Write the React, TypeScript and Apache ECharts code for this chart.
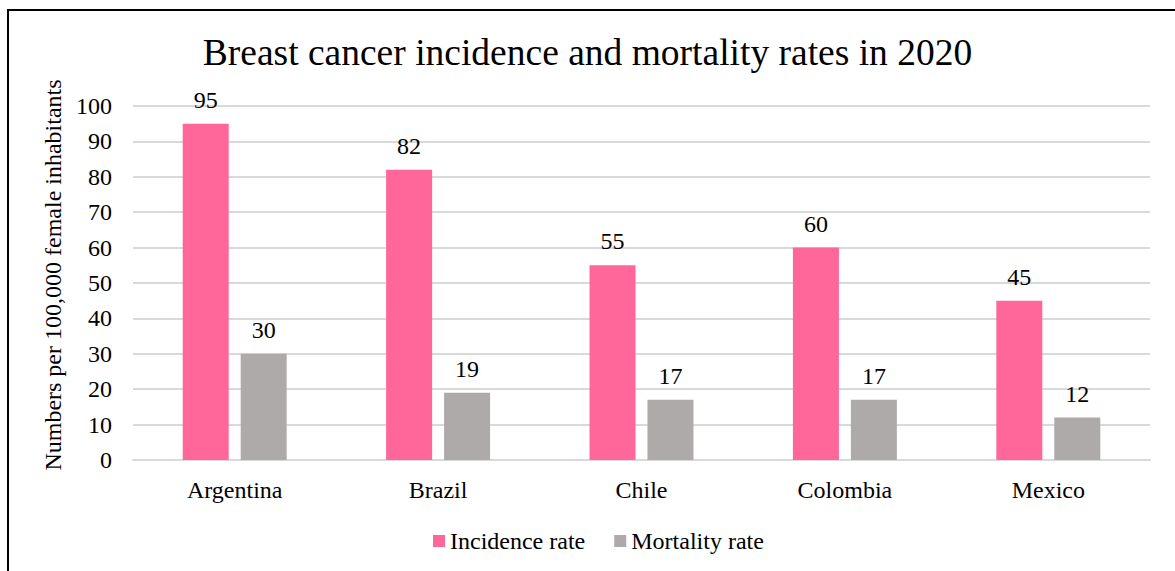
import React, { useEffect, useRef } from "react";
import * as echarts from "echarts";

const categories = ["Argentina", "Brazil", "Chile", "Colombia", "Mexico"];
const incidenceRate = [95, 82, 55, 60, 45];
const mortalityRate = [30, 19, 17, 17, 12];
const seriesNames = ["Incidence rate", "Mortality rate"];
const titleText = "Breast cancer incidence and mortality rates in 2020";
const yAxisName = "Numbers per 100,000 female inhabitants";

const FONT = "'Liberation Serif', 'Times New Roman', serif";

export default function App() {
  const ref = useRef<HTMLDivElement>(null);
  useEffect(() => {
    if (!ref.current) return;
    const chart = echarts.init(ref.current, undefined, { renderer: "svg" });
    const labelStyle = {
      show: true,
      position: "top" as const,
      distance: 12,
      color: "#000",
      fontSize: 24,
      fontFamily: FONT,
    };
    chart.setOption({
      animation: false,
      backgroundColor: "#fff",
      textStyle: { fontFamily: FONT },
      title: {
        text: titleText,
        left: "center",
        top: 28,
        textStyle: { fontFamily: FONT, fontSize: 37.5, fontWeight: "normal", color: "#000" },
      },
      graphic: [
        {
          type: "rect",
          shape: { x: 8, y: 10, width: 1200, height: 620 },
          style: { fill: "none", stroke: "#000", lineWidth: 2 },
          silent: true,
        },
      ],
      legend: {
        data: seriesNames,
        left: 428,
        top: 524,
        itemWidth: 12,
        itemHeight: 12,
        itemGap: 29,
        icon: "rect",
        textStyle: { fontFamily: FONT, fontSize: 24, color: "#000" },
      },
      grid: { left: 133, right: 25, top: 106, bottom: 111, containLabel: false },
      xAxis: {
        type: "category",
        data: categories,
        axisLine: { show: true, lineStyle: { color: "#d9d9d9", width: 2 } },
        axisTick: { show: false },
        axisLabel: { color: "#000", fontSize: 24, fontFamily: FONT, margin: 18 },
      },
      yAxis: {
        type: "value",
        min: 0,
        max: 100,
        interval: 10,
        name: yAxisName,
        nameLocation: "middle",
        nameGap: 66,
        nameRotate: 90,
        nameTextStyle: { color: "#000", fontSize: 24, fontFamily: FONT, padding: [0, 0, 0, 16] },
        axisLine: { show: false },
        axisTick: { show: false },
        axisLabel: { color: "#000", fontSize: 24, fontFamily: FONT, margin: 21 },
        splitLine: { lineStyle: { color: "#d9d9d9", width: 2 } },
      },
      series: [
        {
          name: seriesNames[0],
          type: "bar",
          data: incidenceRate,
          barWidth: 46,
          barGap: "26%",
          itemStyle: { color: "#ff6699" },
          label: labelStyle,
        },
        {
          name: seriesNames[1],
          type: "bar",
          data: mortalityRate,
          barWidth: 46,
          barGap: "26%",
          itemStyle: { color: "#aeaaaa" },
          label: labelStyle,
        },
      ],
    });
    return () => chart.dispose();
  }, []);
  return (
    <div
      ref={ref}
      style={{ position: "absolute", left: 0, top: 0, width: 1175, height: 571 }}
    />
  );
}
